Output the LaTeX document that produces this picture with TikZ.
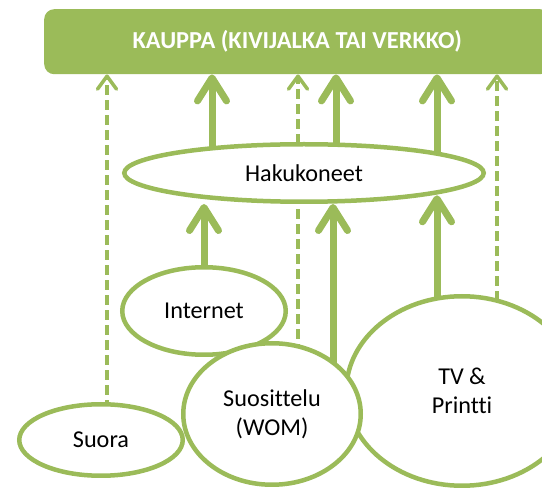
\documentclass[tikz,border=0pt]{standalone}
\usepackage{fontspec}
\setmainfont[Ligatures=NoCommon]{Carlito}
\usetikzlibrary{arrows.meta, positioning, shapes.geometric, backgrounds}
\definecolor{kgreen}{RGB}{155, 187, 89}

\begin{document}
\begin{tikzpicture}[
    x=1pt, y=-1pt,
    blob/.style={ellipse, draw=kgreen, line width=4.5pt,
                 fill=white, inner sep=0pt, align=center,
                 font=\fontsize{24.2}{29}\selectfont},
    shop/.style={rectangle, rounded corners=10pt,
                 fill=kgreen, text=white,
                 font=\fontsize{24.4}{28}\selectfont\bfseries},
    mainarr/.style={line width=7pt, color=kgreen,
                    line cap=round,
                    -{Straight Barb[length=23pt,
                                    width=29pt, round]}},
    sidearr/.style={line width=3.5pt, color=kgreen,
                    dash pattern=on 10pt off 5pt,
                    -{Straight Barb[length=13pt,
                                    width=19pt, round]}},
]
\useasboundingbox (0,0) rectangle (542,489);

% -- Nodes ----------------------------------
\node[blob, minimum width=359.5pt, minimum height=57.5pt]
    (hak)   at (304,173) {Hakukoneet};
\node[blob, minimum width=231.5pt, minimum height=189.5pt]
    (tv)    at (462,391) {TV \&\\Printti};
\node[blob, minimum width=163.5pt, minimum height=87.5pt]
    (inet)  at (204,311) {Internet};
\node[blob, minimum width=163.5pt, minimum height=71.5pt]
    (suora) at (101,440) {Suora};
\node[blob, minimum width=177.5pt, minimum height=141.5pt]
    (wom)   at (272,414) {Suosittelu\\(WOM)};
\node[shop, minimum width=506pt, minimum height=65pt,
      anchor=north west]
    (kauppa) at (44,9) {KAUPPA (KIVIJALKA TAI VERKKO)};

% -- Arrow columns --------------------------
\coordinate (cA) at (107,0);
\coordinate (cB) at (212,0);
\coordinate (cC) at (298,0);
\coordinate (cD) at (336,0);
\coordinate (cE) at (333,0);
\coordinate (cF) at (437,0);
\coordinate (cG) at (497,0);

\begin{scope}[on background layer]
% -- Dashed: straight to the shop -----------
\draw[sidearr] (suora.center -| cA) -- (kauppa.south -| cA);
\draw[sidearr] (wom.center -| cC)   -- (kauppa.south -| cC);
\draw[sidearr] (tv.center -| cG)    -- (kauppa.south -| cG);

% -- Solid: search engines to the shop ------
\draw[mainarr] (hak.center -| cB) -- (kauppa.south -| cB);
\draw[mainarr] (hak.center -| cD) -- (kauppa.south -| cD);
\draw[mainarr] (hak.center -| cF) -- (kauppa.south -| cF);

% -- Solid: channels to search engines ------
\draw[mainarr] (inet) -- (inet |- hak.south);
\draw[mainarr] (wom.center -| cE) -- (hak.south -| cE);
\draw[mainarr] (tv.center -| cF)  -- (hak.-10 -| cF);
\end{scope}

\end{tikzpicture}
\end{document}
